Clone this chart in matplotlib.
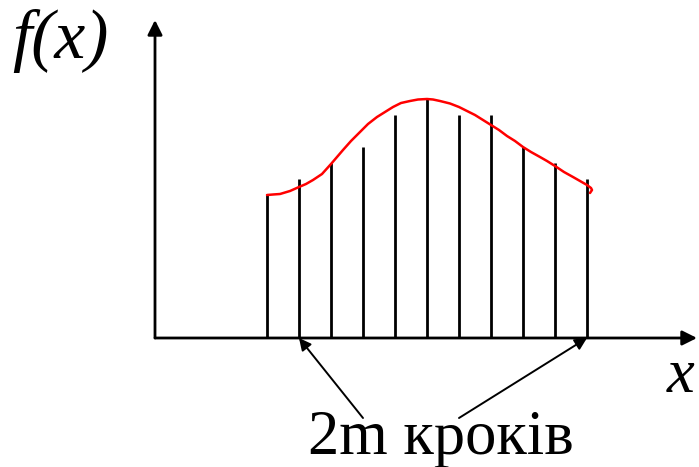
import matplotlib.pyplot as plt

# node positions (steps) and ordinate heights
node_x = [112, 144, 176, 208, 240, 272, 304, 336, 368, 400, 432]
node_y = [143, 159, 175, 191, 223, 239, 223, 223, 191, 175, 159]

# hand-drawn red curve f(x)
curve_x = [112, 118, 125, 135, 144, 151, 158, 167, 176, 182, 188, 196, 205,
           213, 222, 230, 238, 246, 255, 263, 272, 278, 285, 295, 304, 312,
           320, 328, 336, 344, 352, 360, 368, 376, 385, 392, 400, 409, 418,
           425, 432, 436, 437, 435]
curve_y = [143, 143.5, 144, 147, 151, 154, 158, 164, 174, 181, 188, 197, 206,
           214, 221, 226, 231, 235, 237, 238.5, 239, 238.5, 237, 234.5, 231,
           227, 223, 218, 213, 208, 202, 197, 191, 186, 181, 177, 172, 166,
           161, 157, 153, 150, 148, 145]

# where the "2m кроків" arrows point
arrow_targets = [(node_x[1], 0), (node_x[-1], 0)]
arrow_tails = [(208, -80), (304, -80)]

fig = plt.figure(figsize=(6.99, 4.67), dpi=100)
ax = fig.add_axes([0, 0, 1, 1])
ax.set_xlim(-155, 544)
ax.set_ylim(-129, 338)
ax.axis('off')

serif = ['Liberation Serif', 'DejaVu Serif']

# coordinate axes with arrowheads
ax.annotate('', xy=(542, 0), xytext=(0, 0),
            arrowprops=dict(arrowstyle='-|>', lw=2, color='black',
                            mutation_scale=22, shrinkA=0, shrinkB=0))
ax.annotate('', xy=(0, 318), xytext=(0, 0),
            arrowprops=dict(arrowstyle='-|>', lw=2, color='black',
                            mutation_scale=22, shrinkA=0, shrinkB=0))

# ordinates
ax.vlines(node_x, 0, node_y, colors='black', lw=2)

# function curve
ax.plot(curve_x, curve_y, color='red', lw=1.8, solid_capstyle='round')

# arrows from the caption to the axis
for (tx, ty), (sx, sy) in zip(arrow_targets, arrow_tails):
    ax.annotate('', xy=(tx, ty), xytext=(sx, sy),
                arrowprops=dict(arrowstyle='-|>', lw=1.4, color='black',
                                mutation_scale=18, shrinkA=0, shrinkB=0))

ax.text(-143, 280, 'f(x)', fontsize=50, style='italic', family=serif,
        ha='left', va='baseline')
ax.text(512, -54, 'x', fontsize=45, style='italic', family=serif,
        ha='left', va='baseline')
ax.text(153, -116, '2m кроків', fontsize=45, family=serif,
        ha='left', va='baseline')
ax.text(512, 352, 'p', fontsize=45, style='italic', family=serif,
        ha='left', va='baseline')

fig.savefig('out.png', dpi=100)
